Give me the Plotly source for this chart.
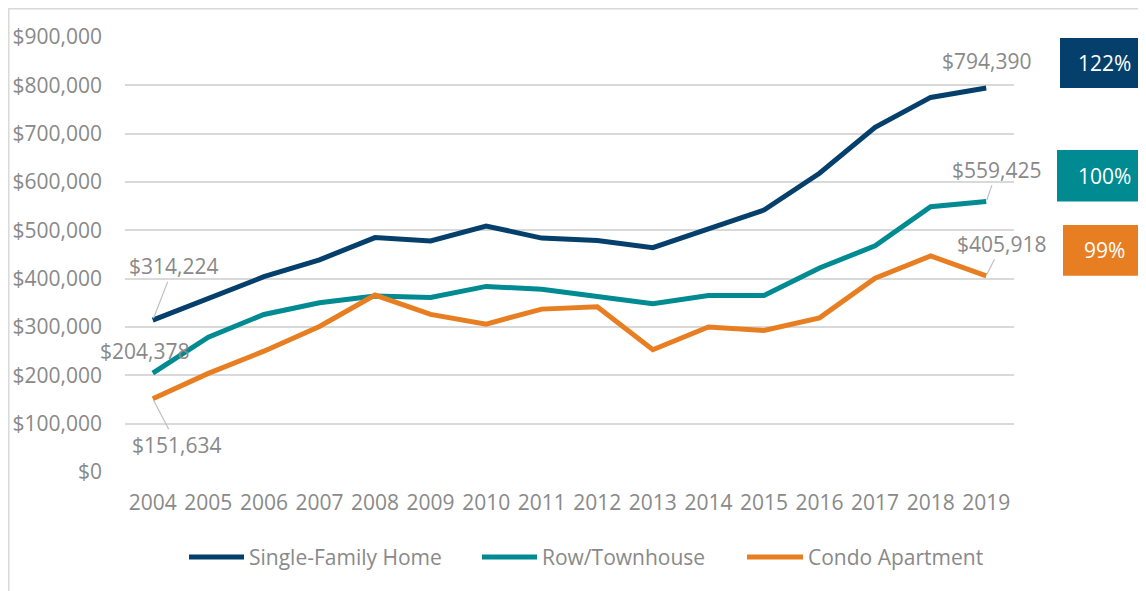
import plotly.graph_objects as go

years = [str(y) for y in range(2004, 2020)]
single_family = [314224, 360000, 404000, 439000, 485000, 478000, 509000, 484000,
                 479000, 464000, 503000, 542000, 618000, 713000, 775000, 794390]
row_town = [204378, 279000, 326000, 350000, 364000, 361000, 384000, 378000,
            363000, 348000, 365000, 365000, 422000, 468000, 549000, 559425]
condo = [151634, 204000, 250000, 301000, 366000, 326000, 306000, 337000,
         342000, 253000, 300000, 293000, 319000, 401000, 447000, 405918]
series_names = ["Single-Family Home", "Row/Townhouse", "Condo Apartment"]
pct_labels = ["122%", "100%", "99%"]

NAVY = "#04406b"
TEAL = "#008b92"
ORANGE = "#e87e22"
GRAY = "#898989"
FONT = "Open Sans"
FS = 21
colors = [NAVY, TEAL, ORANGE]

# the page body adds an 8px margin, so figure coords = screen coords - 8
OFF = 8
W, H = 1146 - OFF, 591 - OFF
# plot area in screen pixels: x 125..1014, y 37..472
PL, PR, PT, PB = 125, 1014, 37, 472
def px_x(p):
    return (p - PL) / (PR - PL)
def px_y(p):
    return (PB - p) / (PB - PT)

fig = go.Figure()
for name, vals, col in zip(series_names, [single_family, row_town, condo], colors):
    fig.add_trace(go.Scatter(x=years, y=vals, name=name, mode="lines",
                             line=dict(color=col, width=5), showlegend=False))

ann = []
shapes = []
def val_label(i, vals, ax=None, ay=None, xshift=0, yshift=0):
    txt = "${:,}".format(vals[i])
    base = dict(x=i, y=vals[i], xref="x", yref="y", text=txt,
                font=dict(family=FONT, size=FS, color=GRAY))
    if ax is None:
        base.update(showarrow=False, xshift=xshift, yshift=yshift)
    else:
        base.update(showarrow=True, ax=ax, ay=ay, arrowhead=0, arrowwidth=1.2,
                    arrowcolor="#bfbfbf", standoff=2)
    ann.append(base)

val_label(0, single_family, ax=21, ay=-54)
val_label(0, row_town, xshift=-8, yshift=22)
val_label(0, condo, ax=24, ay=46)
val_label(15, single_family, xshift=1, yshift=27)
val_label(15, row_town, ax=11, ay=-32)
val_label(15, condo, ax=16, ay=-32)

# percentage boxes (bottom aligned to final values)
box_specs = [(single_family[-1], 898000, px_x(1060), px_x(1150)),
             (row_town[-1], 666000, px_x(1057), px_x(1150)),
             (condo[-1], 511000, px_x(1063), px_x(1145))]
for (y0, y1, x0, x1), lab, col in zip(box_specs, pct_labels, colors):
    shapes.append(dict(type="rect", xref="paper", yref="y", x0=x0, x1=x1, y0=y0, y1=y1,
                       fillcolor=col, line=dict(width=0), layer="above"))
    ann.append(dict(xref="paper", yref="y", x=px_x(1104), y=(y0 + y1) / 2,
                    text=lab, showarrow=False, xanchor="center", yanchor="middle",
                    font=dict(family=FONT, size=FS, color="white")))

# legend (drawn manually to match the reference spacing)
leg_line_x = [(189, 244), (482, 537), (747, 803)]
leg_y = px_y(557)
for (a, b), name, col in zip(leg_line_x, series_names, colors):
    shapes.append(dict(type="line", xref="paper", yref="paper", x0=px_x(a), x1=px_x(b),
                       y0=leg_y, y1=leg_y, line=dict(color=col, width=5, )))
    ann.append(dict(xref="paper", yref="paper", x=px_x(b + 3), y=leg_y, text=name,
                    showarrow=False, xanchor="left", yanchor="middle",
                    font=dict(family=FONT, size=FS, color=GRAY)))

# chart border
shapes.append(dict(type="rect", xref="paper", yref="paper", x0=px_x(8.8), x1=px_x(1200),
                   y0=px_y(650), y1=px_y(8.8), line=dict(color="#d9d9d9", width=1.5),
                   fillcolor="rgba(0,0,0,0)", layer="below"))

fig.update_layout(
    width=W, height=H,
    margin=dict(l=PL - OFF, r=W - (PR - OFF), t=PT - OFF, b=H - (PB - OFF), autoexpand=False),
    paper_bgcolor="white", plot_bgcolor="white",
    font=dict(family=FONT, size=FS, color=GRAY),
    xaxis=dict(type="category", range=[-0.5, 15.5], autorange=False,
               showgrid=False, zeroline=False, showline=False, automargin=False,
               ticks="", tickfont=dict(family=FONT, size=FS, color=GRAY),
               ticklabelstandoff=16),
    yaxis=dict(range=[0, 900000], autorange=False, dtick=100000, tickformat="$,.0f",
               showgrid=True, gridcolor="#d9d9d9", gridwidth=2, zeroline=False,
               showline=False, ticks="", ticklabelstandoff=22, automargin=False,
               tickfont=dict(family=FONT, size=FS, color=GRAY)),
    annotations=ann,
    shapes=shapes,
    showlegend=False,
)

fig.write_html("out.html")
